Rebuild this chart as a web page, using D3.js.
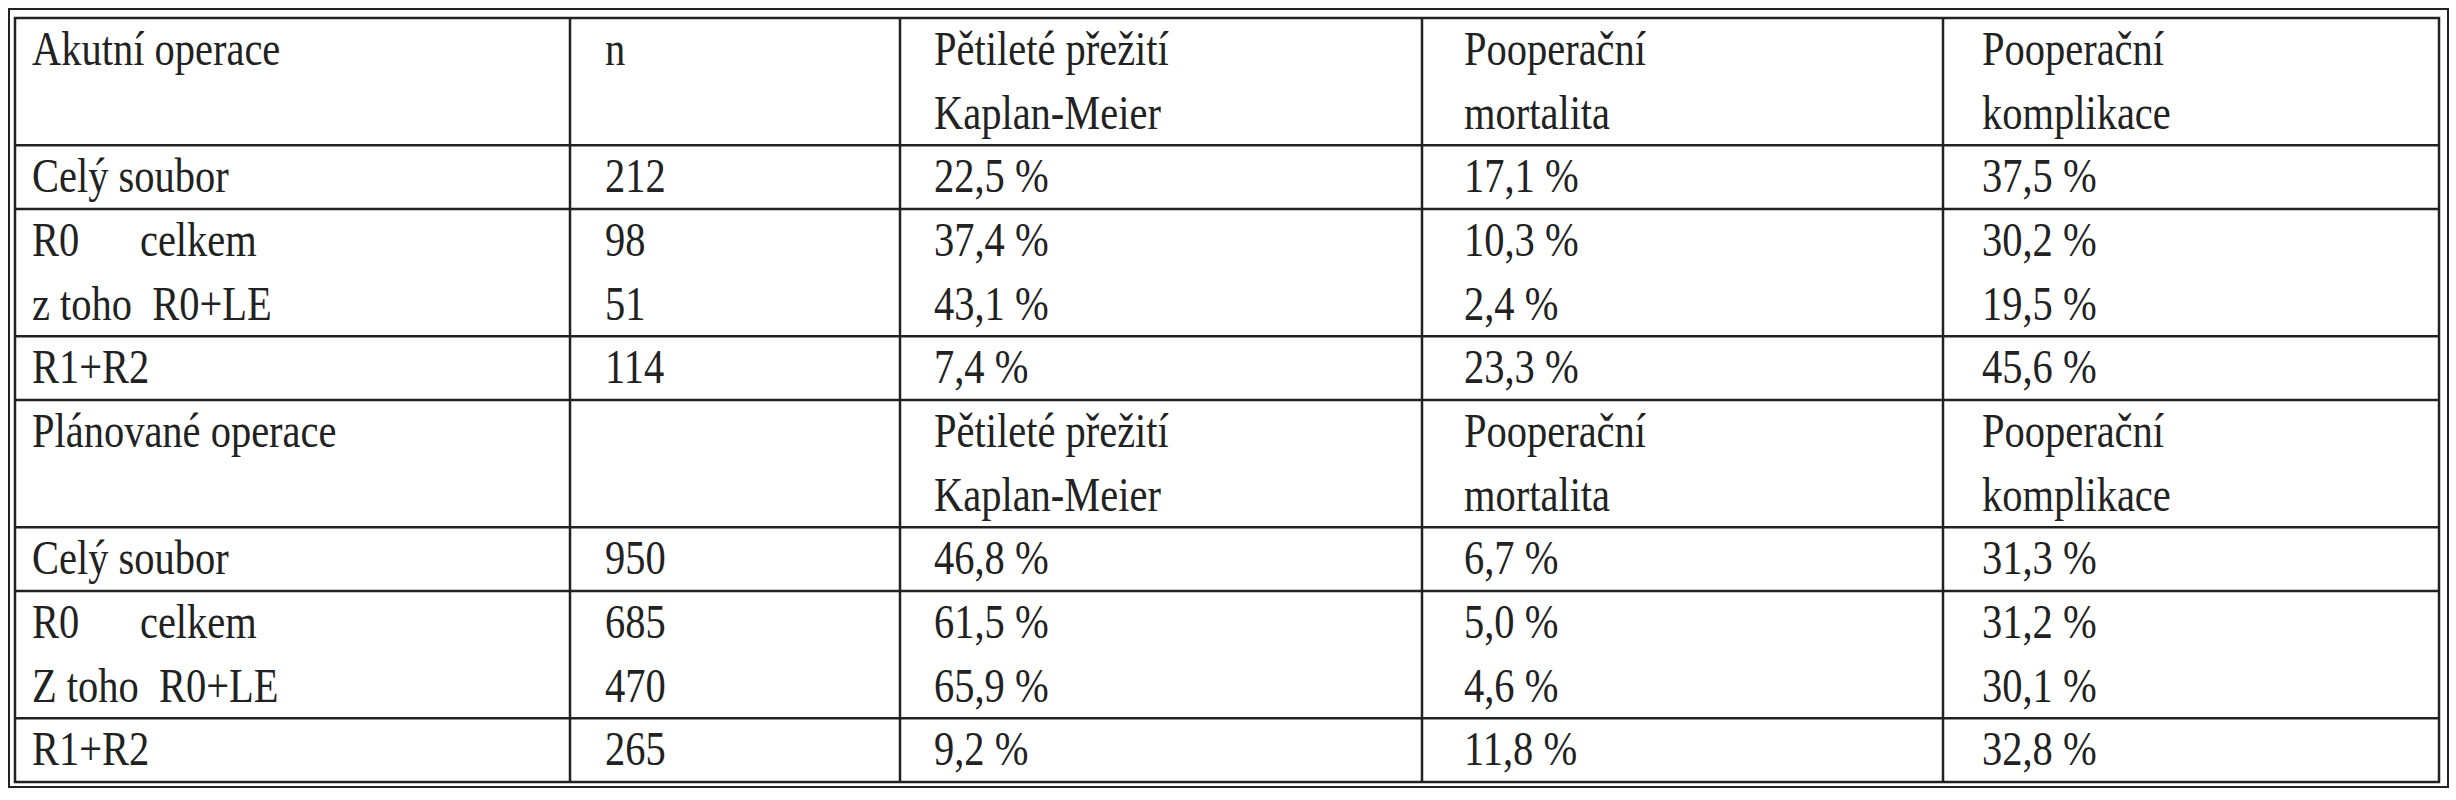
<!DOCTYPE html>
<html><head><meta charset="utf-8">
<script src="https://cdn.jsdelivr.net/npm/d3@7"></script>
<style>body{margin:0;background:#fff}</style>
</head><body><svg id="c" width="2456" height="800"></svg>
<script>
const headers=[["Pětileté přežití","Kaplan-Meier"],["Pooperační","mortalita"],["Pooperační","komplikace"]];
const sections=["Akutní operace","Plánované operace"];
const sectionN=["n",""];
const rowLabels=[["Celý soubor","R0      celkem","z toho  R0+LE","R1+R2"],["Celý soubor","R0      celkem","Z toho  R0+LE","R1+R2"]];
const nValues=[[212,98,51,114],[950,685,470,265]];
const survival=[["22,5 %","37,4 %","43,1 %","7,4 %"],["46,8 %","61,5 %","65,9 %","9,2 %"]];
const mortality=[["17,1 %","10,3 %","2,4 %","23,3 %"],["6,7 %","5,0 %","4,6 %","11,8 %"]];
const complications=[["37,5 %","30,2 %","19,5 %","45,6 %"],["31,3 %","31,2 %","30,1 %","32,8 %"]];
const svg=d3.select("#c");
const colEdges=[15,570,900,1422,1943,2439];
const pad=[17,35,34,42,39];
const y=d3.scaleLinear().domain([0,12]).range([18,782]);
svg.append("rect").attr("x",9).attr("y",9).attr("width",2439).attr("height",778).attr("fill","none").attr("stroke","#222").attr("stroke-width",2);
svg.append("rect").attr("x",colEdges[0]).attr("y",y(0)).attr("width",colEdges[5]-colEdges[0]).attr("height",y(12)-y(0)).attr("fill","none").attr("stroke","#222").attr("stroke-width",2.5);
colEdges.slice(1,5).forEach(x=>svg.append("line").attr("x1",x).attr("x2",x).attr("y1",y(0)).attr("y2",y(12)).attr("stroke","#222").attr("stroke-width",2.5));
[2,3,5,6,8,9,11].forEach(b=>svg.append("line").attr("x1",colEdges[0]).attr("x2",colEdges[5]).attr("y1",y(b)).attr("y2",y(b)).attr("stroke","#222").attr("stroke-width",2.5));
function put(col,line,str){
  const tx=colEdges[col]+pad[col], ty=y(line)+47;
  svg.append("text").attr("transform",`translate(${tx},${ty}) scale(0.92,1.08)`)
    .attr("font-family","'Liberation Serif','DejaVu Serif',serif").attr("font-size",44).attr("fill","#222")
    .style("white-space","pre").attr("xml:space","preserve").text(str);
}
sections.forEach((s,si)=>{
  const base=si*6;
  put(0,base,s); put(1,base,sectionN[si]);
  headers.forEach((h,hi)=>{put(2+hi,base,h[0]);put(2+hi,base+1,h[1]);});
  rowLabels[si].forEach((lab,ri)=>{
    const line=base+2+ri;
    put(0,line,lab); put(1,line,String(nValues[si][ri]));
    put(2,line,survival[si][ri]); put(3,line,mortality[si][ri]); put(4,line,complications[si][ri]);
  });
});
</script></body></html>
